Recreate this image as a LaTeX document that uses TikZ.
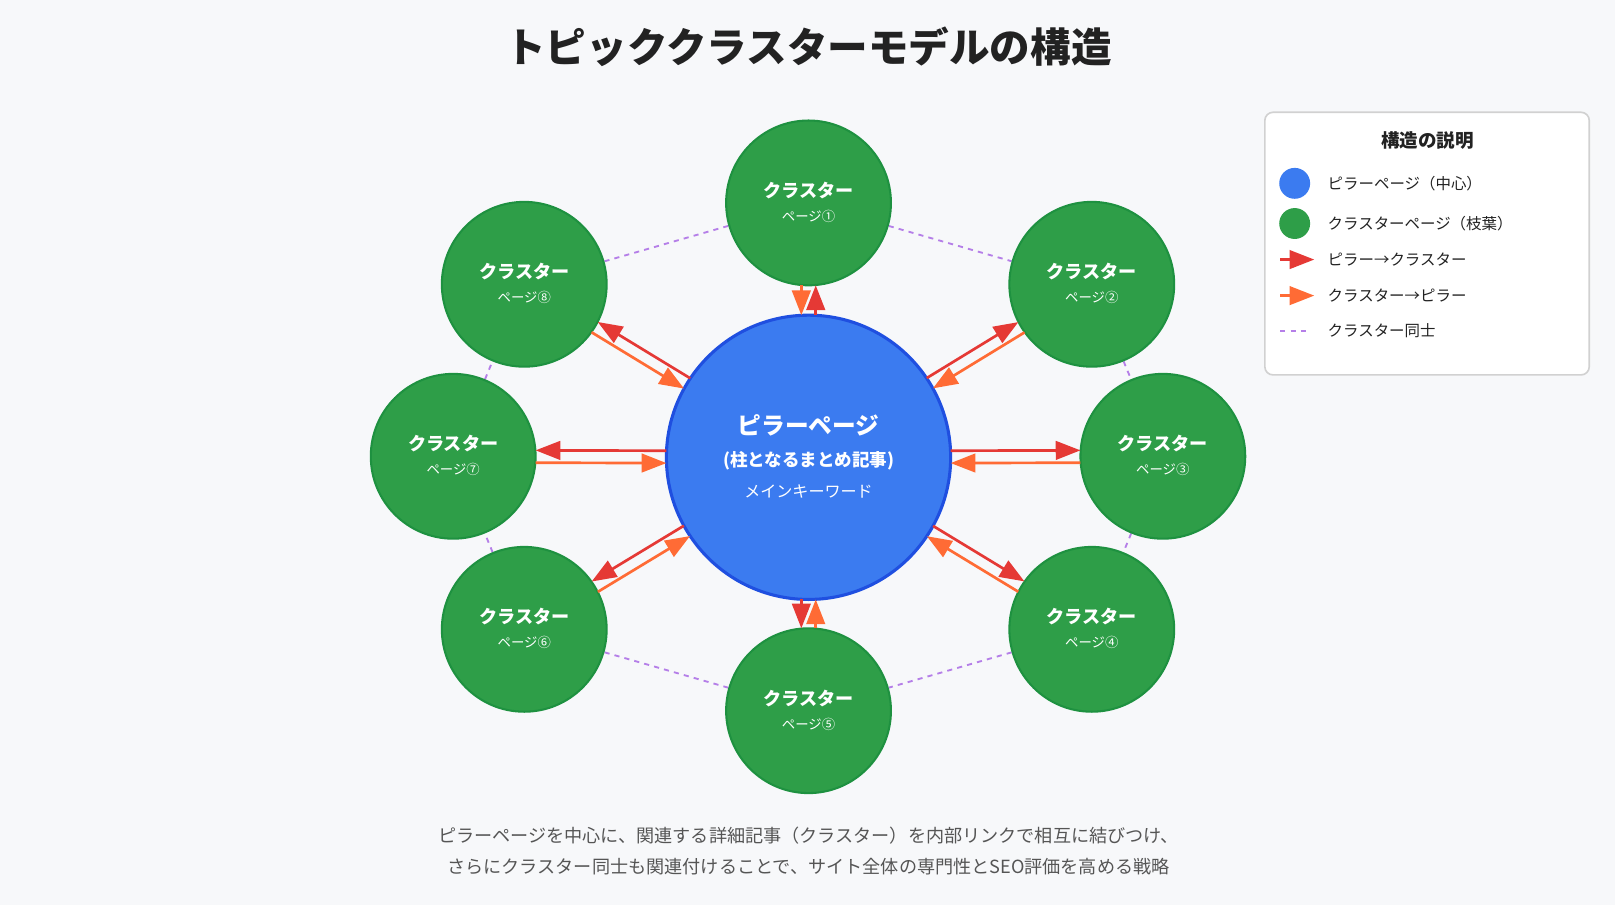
\documentclass[tikz,border=0pt]{standalone}
\usepackage{fontspec}
\setmainfont{Noto Sans CJK JP}
\usetikzlibrary{arrows.meta,backgrounds}
\definecolor{bg}{HTML}{F7F8FA}
\definecolor{gfill}{HTML}{2E9E48}
\definecolor{gline}{HTML}{1E9140}
\definecolor{bfill}{HTML}{3B7BF0}
\definecolor{bline}{HTML}{1F4FE0}
\definecolor{rarr}{HTML}{E53935}
\definecolor{oarr}{HTML}{FF6B35}
\definecolor{dash}{HTML}{B57FE8}
\definecolor{ttl}{HTML}{222222}
\definecolor{sub}{HTML}{555555}
\tikzset{
  cl/.style={circle,fill=gfill,draw=gline,line width=1pt,minimum size=80pt,inner sep=0pt,text=white,align=center},
  pil/.style={circle,fill=bfill,draw=bline,line width=1.5pt,minimum size=138pt,inner sep=0pt,text=white,align=center},
  ra/.style={draw=rarr,line width=1.3pt,-{Triangle[length=12pt,width=9pt]},shorten <=69pt,shorten >=40pt},
  oa/.style={draw=oarr,line width=1.3pt,-{Triangle[length=12pt,width=9pt]},shorten <=40pt,shorten >=69pt},
  dl/.style={draw=dash,line width=0.9pt,dash pattern=on 2.5pt off 2.5pt},
  ct/.style={font=\fontsize{8.8}{10}\selectfont\bfseries,text=white},
  cs/.style={font=\fontsize{6.5}{8}\selectfont,text=white},
  lt/.style={anchor=west,font=\fontsize{7.5}{9}\selectfont,text=ttl},
}
\begin{document}
\begin{tikzpicture}[x=0.5pt,y=-0.5pt]
\useasboundingbox (0,0) rectangle (1568,879);
\node[font=\fontsize{19.7}{23}\selectfont\bfseries,text=ttl] (title) at (785,45) {トピッククラスターモデルの構造};
\node[pil] (p) at (785,444) {};
\node[font=\fontsize{11.5}{13}\selectfont\bfseries,text=white] (pt1) at (785,413) {ピラーページ};
\node[font=\fontsize{8.5}{10}\selectfont\bfseries,text=white] (pt2) at (785,447) {(柱となるまとめ記事)};
\node[font=\fontsize{7.8}{9}\selectfont,text=white] (pt3) at (785,477) {メインキーワード};
\foreach \i/\x/\y/\n/\ox/\oy in {1/785/197/①/7/0,2/1060/276/②/-3/-5,3/1129/443/③/0/-6,4/1060/611/④/3/-5,5/785/690/⑤/-7/0,6/509/611/⑥/-3/-5,7/440/443/⑦/0/-6,8/509/276/⑧/3/-5}{
  \node[cl] (c\i) at (\x,\y) {};
  \node[ct] (c\i t) at (\x,\y-12) {クラスター};
  \node[cs] (c\i s) at (\x,\y+13) {ページ\n};
  \draw[ra] ([shift={(\ox,\oy)}]p.center) -- ([shift={(\ox,\oy)}]c\i.center);
  \draw[oa] ([shift={(-\ox,-\oy)}]c\i.center) -- ([shift={(-\ox,-\oy)}]p.center);
}
\begin{scope}[on background layer]
\fill[bg] (0,0) rectangle (1568,879);
\foreach \a/\b in {1/2,2/3,3/4,4/5,5/6,6/7,7/8,8/1}{\draw[dl] (c\a) -- (c\b);}
\end{scope}
% legend
\draw[fill=white,draw=black!18,line width=0.8pt,rounded corners=4pt] (1228,109) rectangle (1543,364);
\node[font=\fontsize{9}{11}\selectfont\bfseries,text=ttl] (lg) at (1386,136) {構造の説明};
\node[circle,fill=bfill,minimum size=15pt,inner sep=0pt] (l1) at (1257,178) {};
\node[lt] (l1t) at (1282,178) {ピラーページ（中心）};
\node[circle,fill=gfill,minimum size=15pt,inner sep=0pt] (l2) at (1257,217) {};
\node[lt] (l2t) at (1282,217) {クラスターページ（枝葉）};
\coordinate (l3a) at (1243,252); \coordinate (l3b) at (1276,252);
\draw[draw=rarr,line width=1.3pt,-{Triangle[length=12pt,width=9pt]}] (l3a) -- (l3b);
\node[lt] (l3t) at (1282,252) {ピラー→クラスター};
\coordinate (l4a) at (1243,287); \coordinate (l4b) at (1276,287);
\draw[draw=oarr,line width=1.3pt,-{Triangle[length=12pt,width=9pt]}] (l4a) -- (l4b);
\node[lt] (l4t) at (1282,287) {クラスター→ピラー};
\coordinate (l5a) at (1243,321); \coordinate (l5b) at (1272,321);
\draw[dl] (l5a) -- (l5b);
\node[lt] (l5t) at (1282,321) {クラスター同士};
\node[font=\fontsize{8.8}{10}\selectfont,text=sub] (b1) at (785,811) {ピラーページを中心に、関連する詳細記事（クラスター）を内部リンクで相互に結びつけ、};
\node[font=\fontsize{8.8}{10}\selectfont,text=sub] (b2) at (785,841) {さらにクラスター同士も関連付けることで、サイト全体の専門性とSEO評価を高める戦略};
\end{tikzpicture}
\end{document}
